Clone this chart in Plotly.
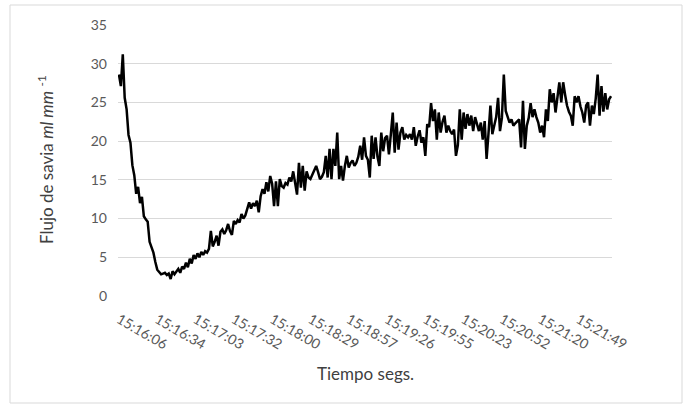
import plotly.graph_objects as go

# Sap flow readings, one per sample, in ml mm^-1
flujo = [
    28.6, 27.1, 31.2, 25.6, 24.1, 20.8, 19.8, 16.9, 15.6, 13.2,
    14.1, 12.0, 12.8, 10.3, 9.9, 9.6, 7.0, 6.3, 5.6, 4.4,
    3.4, 3.1, 2.8, 2.9, 3.0, 2.7, 2.9, 2.2, 3.2, 2.8,
    3.1, 3.5, 3.0, 3.8, 3.5, 4.3, 3.7, 4.8, 4.2, 5.3,
    4.8, 5.5, 5.0, 5.7, 5.3, 5.8, 5.6, 6.1, 8.4, 6.4,
    7.0, 7.8, 6.5, 8.3, 8.6, 8.0, 8.5, 9.3, 8.4, 7.9,
    9.7, 9.3, 9.8, 9.5, 10.6, 10.0, 10.4, 11.2, 12.1, 11.3,
    12.0, 11.6, 12.3, 10.8, 12.9, 13.8, 13.2, 14.7, 13.5, 15.5,
    14.5, 11.6, 14.8, 11.6, 15.1, 14.2, 14.0, 14.6, 14.4, 15.3,
    14.8, 16.1, 14.5, 13.1, 17.2, 14.0, 16.8, 13.6, 16.1, 15.3,
    15.1, 15.6, 16.2, 16.8, 16.0, 15.1, 15.4, 16.0, 18.1, 15.3,
    19.0, 15.1, 19.0, 16.8, 21.1, 15.1, 16.8, 14.9, 16.8, 18.1,
    16.6, 17.2, 17.5, 16.8, 17.2, 18.0, 19.4, 17.6, 20.5, 18.1,
    17.6, 15.3, 20.7, 17.7, 20.5, 18.0, 16.8, 21.1, 18.7, 20.4,
    20.7, 18.3, 20.9, 23.7, 18.5, 22.4, 18.9, 21.1, 21.8, 20.2,
    20.8, 20.5, 20.9, 20.2, 21.8, 19.4, 20.6, 21.4, 19.8, 20.5,
    18.1, 22.2, 21.8, 24.9, 22.6, 24.1, 20.2, 23.7, 21.1, 22.5,
    23.3, 21.1, 22.0, 21.3, 20.9, 21.5, 18.1, 19.5, 24.1, 20.2,
    23.7, 21.6, 23.5, 22.0, 23.3, 21.3, 23.1, 22.0, 21.3, 22.4,
    20.2, 22.6, 17.7, 21.0, 24.6, 20.9, 22.0, 23.1, 25.6, 21.3,
    23.0, 28.6, 23.9, 23.0, 22.4, 22.8, 22.0, 22.3, 22.6, 22.8,
    19.2, 25.2, 19.0, 22.0, 23.0, 24.9, 23.1, 24.1, 23.1, 22.4,
    21.1, 22.0, 20.5, 24.1, 22.6, 26.7, 25.0, 26.2, 23.7, 25.5,
    27.6, 25.0, 27.6, 26.0, 24.6, 23.8, 23.3, 22.0, 25.8, 25.0,
    25.8, 24.5, 23.7, 22.4, 24.6, 25.0, 22.0, 24.6, 23.5, 25.5,
    28.6, 23.3, 27.1, 23.8, 26.2, 24.1, 25.4, 25.8,
]

# Time stamps shown along the axis, one every SAMPLES_PER_LABEL readings
etiquetas_tiempo = [
    "15:16:06", "15:16:34", "15:17:03", "15:17:32", "15:18:00",
    "15:18:29", "15:18:57", "15:19:26", "15:19:55", "15:20:23",
    "15:20:52", "15:21:20", "15:21:49",
]
SAMPLES_PER_LABEL = 20

muestras = list(range(len(flujo)))
posiciones_etiquetas = [i * SAMPLES_PER_LABEL for i in range(len(etiquetas_tiempo))]

FONT = "Lato, 'Open Sans', sans-serif"
TEXT = "#595959"
GRID = "#d9d9d9"

fig = go.Figure(
    go.Scatter(
        x=muestras,
        y=flujo,
        mode="lines",
        line=dict(color="#000000", width=2.5),
        hoverinfo="skip",
    )
)

# Plot area: left 118, right 612, top 25, bottom 296 (pixels)
L, R, T, B = 118, 612, 25, 296
W, H = 688, 406

fig.update_layout(
    width=W,
    height=H,
    margin=dict(l=L, r=W - R, t=T, b=H - B),
    paper_bgcolor="white",
    plot_bgcolor="white",
    showlegend=False,
    font=dict(family=FONT, color=TEXT, size=14),
)

fig.update_xaxes(
    range=[-0.5, len(flujo) - 0.5],
    tickmode="array",
    tickvals=posiciones_etiquetas,
    ticktext=etiquetas_tiempo,
    tickangle=30,
    ticklabelstandoff=12,
    tickfont=dict(family=FONT, size=14, color=TEXT),
    showgrid=False,
    zeroline=False,
    showline=False,
    ticks="",
)

fig.update_yaxes(
    range=[0, 35],
    tickmode="linear",
    tick0=0,
    dtick=5,
    showgrid=True,
    gridcolor=GRID,
    gridwidth=1,
    zeroline=False,
    showline=False,
    ticks="",
    ticklabelstandoff=10,
    tickfont=dict(family=FONT, size=14, color=TEXT),
)

pw, ph = R - L, B - T


def px_to_paper(xp, yp):
    return (xp - L) / pw, (B - yp) / ph


# Axis titles
ax, ay = px_to_paper(365, 373)
fig.add_annotation(
    x=ax, y=ay, xref="paper", yref="paper",
    text="Tiempo segs.", showarrow=False,
    font=dict(family=FONT, size=17, color="#404040"),
    xanchor="center", yanchor="middle",
)
bx, by = px_to_paper(45, 160)
fig.add_annotation(
    x=bx, y=by, xref="paper", yref="paper",
    text="Flujo de savia <i>ml mm</i> <sup>-1</sup>", showarrow=False,
    textangle=-90,
    font=dict(family=FONT, size=17, color="#404040"),
    xanchor="center", yanchor="middle",
)

# Chart frame
x0, y0 = px_to_paper(10, 403)
x1, y1 = px_to_paper(682, 5)
fig.add_shape(
    type="rect", xref="paper", yref="paper",
    x0=x0, y0=y0, x1=x1, y1=y1,
    line=dict(color=GRID, width=1), fillcolor="rgba(0,0,0,0)",
    layer="below",
)

fig.write_html("out.html")
